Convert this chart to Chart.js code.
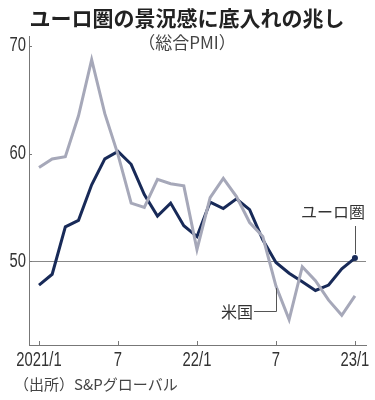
<!DOCTYPE html>
<html>
<head>
<meta charset="utf-8">
<script src="https://cdn.jsdelivr.net/npm/chart.js@4.4.1/dist/chart.umd.min.js"></script>
<style>
html,body{margin:0;padding:0;background:#fff;}
canvas{display:block;}
</style>
</head>
<body>
<canvas id="c" width="375" height="400"></canvas>
<script>
// ---- data ----
const months = ['2021/1','2021/2','2021/3','2021/4','2021/5','2021/6','2021/7','2021/8','2021/9','2021/10','2021/11','2021/12',
  '2022/1','2022/2','2022/3','2022/4','2022/5','2022/6','2022/7','2022/8','2022/9','2022/10','2022/11','2022/12','2023/1'];
const euroValues = [47.8,48.8,53.2,53.8,57.1,59.5,60.2,59.0,56.2,54.2,55.4,53.3,52.3,55.5,54.9,55.8,54.8,52.0,49.9,48.9,48.1,47.3,47.8,49.3,50.3];
const usValues = [58.7,59.5,59.7,63.5,68.7,63.7,59.9,55.4,55.0,57.6,57.2,57.0,51.1,55.9,57.7,56.0,53.6,52.3,47.7,44.6,49.5,48.2,46.4,45.0,46.8];
const xTickIndex = [0,6,12,18,24];
const xTickLabels = ['2021/1','7','22/1','7','23/1'];
const yTickValues = [50,60,70];
const titleText = 'ユーロ圏の景況感に底入れの兆し';
const subtitleText = '（総合PMI）';
const sourceText = '（出所）S&Pグローバル';
const euroName = 'ユーロ圏';
const usName = '米国';

const NAVY = '#182a58';
const GRAY = '#a6a8b9';
const NUMFONT = '"Liberation Sans","Arimo",sans-serif';
const JPFONT = '"Noto Sans CJK JP","Noto Sans",sans-serif';
const SQUEEZE = 0.74;

const toPts = arr => arr.map((v,i)=>({x:i,y:v}));

function condensedText(ctx, text, x, y, align){
  ctx.save();
  ctx.translate(x, y);
  ctx.scale(SQUEEZE, 1);
  ctx.textAlign = align;
  ctx.fillText(text, 0, 0);
  ctx.restore();
}

const annot = {
  id:'annot',
  afterDraw(chart){
    const ctx = chart.ctx;
    const xs = chart.scales.x, ys = chart.scales.y;
    const ca = chart.chartArea;
    ctx.save();
    // title
    ctx.fillStyle = '#222';
    ctx.textAlign = 'center';
    ctx.textBaseline = 'middle';
    ctx.font = 'bold 21px ' + JPFONT;
    ctx.fillText(titleText, 187, 18);
    ctx.fillStyle = '#444';
    ctx.font = '17px ' + JPFONT;
    ctx.fillText(subtitleText, 187, 43);
    // source
    ctx.textAlign = 'left';
    ctx.fillStyle = '#444';
    ctx.font = '15px ' + JPFONT;
    ctx.fillText(sourceText, 14, 384);
    // tick labels (condensed), positioned by the library's scales
    ctx.fillStyle = '#333';
    ctx.font = '20px ' + NUMFONT;
    ctx.textBaseline = 'middle';
    xTickIndex.forEach((v,k)=>{
      condensedText(ctx, xTickLabels[k], xs.getPixelForValue(v), ca.bottom + 15, 'center');
    });
    yTickValues.forEach(v=>{
      condensedText(ctx, String(v), ca.left - 3, ys.getPixelForValue(v), 'right');
    });
    // tick marks
    ctx.strokeStyle = '#777';
    ctx.lineWidth = 1;
    ctx.beginPath();
    xTickIndex.forEach(v=>{
      const px = Math.round(xs.getPixelForValue(v))+0.5;
      ctx.moveTo(px, ca.bottom); ctx.lineTo(px, ca.bottom-4);
    });
    yTickValues.forEach(v=>{
      const py = Math.round(ys.getPixelForValue(v))+0.5;
      ctx.moveTo(ca.left, py); ctx.lineTo(ca.left+3, py);
    });
    ctx.stroke();
    // euro label + leader
    const last = euroValues.length-1;
    const ex = Math.round(xs.getPixelForValue(last))+0.5;
    const ey = ys.getPixelForValue(euroValues[last]);
    ctx.strokeStyle = '#555';
    ctx.beginPath();
    ctx.moveTo(ex, 226); ctx.lineTo(ex, ey-4);
    ctx.stroke();
    ctx.fillStyle = '#333';
    ctx.font = '16px ' + JPFONT;
    ctx.textAlign = 'center';
    ctx.fillText(euroName, 333, 212);
    // us label + leader
    const ui = 18;
    const ux = Math.round(xs.getPixelForValue(ui))+0.5;
    const uy = ys.getPixelForValue(usValues[ui]);
    ctx.beginPath();
    ctx.moveTo(254, 311.5); ctx.lineTo(ux, 311.5); ctx.lineTo(ux, uy+2);
    ctx.stroke();
    ctx.textAlign = 'right';
    ctx.fillText(usName, 253, 312);
    ctx.restore();
  }
};

new Chart(document.getElementById('c'), {
  type:'line',
  data:{
    labels: months,
    datasets:[
      {label:'米国', data: toPts(usValues), borderColor: GRAY, borderWidth:3, pointRadius:0, tension:0, fill:false},
      {label:'ユーロ圏', data: toPts(euroValues), borderColor: NAVY, backgroundColor: NAVY, borderWidth:3,
        pointRadius: c => c.dataIndex === euroValues.length-1 ? 3 : 0, pointBorderWidth:0, tension:0, fill:false}
    ]
  },
  options:{
    responsive:false,
    animation:false,
    devicePixelRatio:1,
    layout:{padding:{top:36,left:0,right:9,bottom:0}},
    plugins:{legend:{display:false}, tooltip:{enabled:false}, title:{display:false}},
    scales:{
      x:{
        type:'linear', min:-0.76, max:24.84,
        afterBuildTicks: s => { s.ticks = xTickIndex.map(v=>({value:v})); },
        afterFit: s => { s.height = 55; },
        grid:{display:false, drawTicks:false},
        border:{display:true, color:'#777', width:1},
        ticks:{display:false}
      },
      y:{
        min:42.24, max:70.9,
        afterBuildTicks: s => { s.ticks = yTickValues.map(v=>({value:v})); },
        afterFit: s => { s.width = 29; },
        grid:{drawTicks:false, color: c => (c.tick && c.tick.value === 50) ? '#888' : 'rgba(0,0,0,0)'},
        border:{display:true, color:'#777', width:1},
        ticks:{display:false}
      }
    }
  },
  plugins:[annot]
});
</script>
</body>
</html>
